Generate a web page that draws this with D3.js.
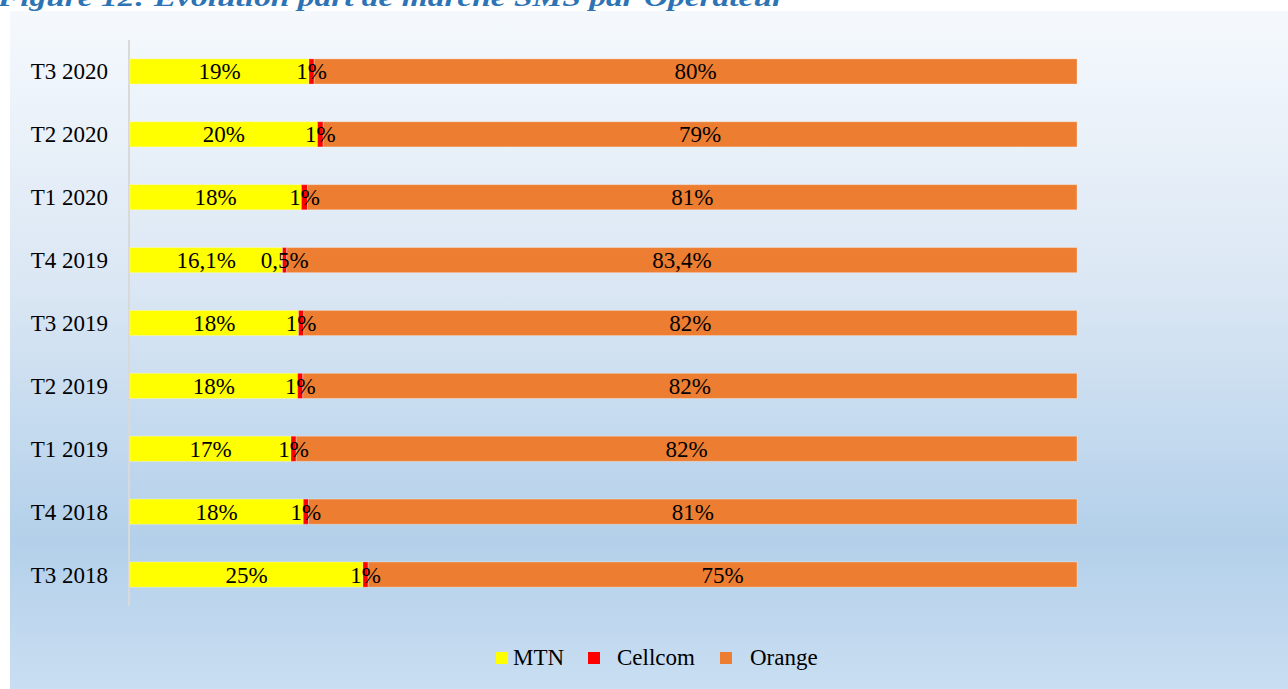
<!DOCTYPE html>
<html>
<head>
<meta charset="utf-8">
<script src="https://cdn.jsdelivr.net/npm/d3@7"></script>
<style>
  body { margin: 0; background: #ffffff; }
  svg { display: block; }
  text { font-family: "Liberation Serif", "Times New Roman", serif; fill: #000; }
</style>
</head>
<body>
<svg id="chart" width="1288" height="689"></svg>
<script>
// periods, top to bottom
var periods = ["T3 2020", "T2 2020", "T1 2020", "T4 2019", "T3 2019", "T2 2019", "T1 2019", "T4 2018", "T3 2018"];
var operators = ["MTN", "Cellcom", "Orange"];
// shares (%)
var mtn     = [18.9, 19.8, 18.1, 16.1, 17.8, 17.7, 17.0, 18.3, 24.6];
var cellcom = [0.55, 0.6, 0.65, 0.45, 0.55, 0.55, 0.55, 0.55, 0.55];
var orange  = [80.55, 79.6, 81.25, 83.45, 81.65, 81.75, 82.45, 81.15, 74.85];
// labels as printed on the chart
var mtnLabels     = ["19%", "20%", "18%", "16,1%", "18%", "18%", "17%", "18%", "25%"];
var cellcomLabels = ["1%", "1%", "1%", "0,5%", "1%", "1%", "1%", "1%", "1%"];
var orangeLabels  = ["80%", "79%", "81%", "83,4%", "82%", "82%", "82%", "81%", "75%"];

var colors = { "MTN": "#ffff00", "Cellcom": "#ff0000", "Orange": "#ed7d31" };

var rows = periods.map(function(p, i) {
    return { period: p, MTN: mtn[i], Cellcom: cellcom[i], Orange: orange[i],
             labels: { MTN: mtnLabels[i], Cellcom: cellcomLabels[i], Orange: orangeLabels[i] } };
});

var svg = d3.select("#chart");

// background panel with gradient
var grad = svg.append("defs").append("linearGradient")
    .attr("id", "bg").attr("x1", 0).attr("y1", 0).attr("x2", 0).attr("y2", 1);
grad.append("stop").attr("offset", "0%").attr("stop-color", "#f5f9fd");
grad.append("stop").attr("offset", "40%").attr("stop-color", "#dbe7f4");
grad.append("stop").attr("offset", "78%").attr("stop-color", "#b3d0ea");
grad.append("stop").attr("offset", "100%").attr("stop-color", "#c9def2");

svg.append("rect")
    .attr("x", 10).attr("y", 11)
    .attr("width", 1278).attr("height", 678)
    .attr("fill", "url(#bg)");

// title (cut at top of page, as in the source)
svg.append("text")
    .attr("x", -2).attr("y", 6)
    .attr("textLength", 787).attr("lengthAdjust", "spacingAndGlyphs")
    .style("font-size", "25px").style("font-weight", "bold").style("font-style", "italic")
    .style("fill", "#2e74b5")
    .text("Figure 12: Evolution part de marché SMS par Opérateur");

var x = d3.scaleLinear().domain([0, 1]).range([130, 1077]);
var y = d3.scaleBand().domain(periods).range([40, 606]).paddingInner(0.6).paddingOuter(0.3);

var series = d3.stack().keys(operators).offset(d3.stackOffsetExpand)(rows);

// vertical axis line
svg.append("line")
    .attr("x1", 129).attr("x2", 129).attr("y1", 40).attr("y2", 606)
    .attr("stroke", "#d9d9d9").attr("stroke-width", 2);

// category labels
svg.selectAll(".cat")
    .data(periods).enter().append("text")
    .attr("class", "cat")
    .attr("x", 108)
    .attr("y", function(d) { return y(d) + y.bandwidth() / 2; })
    .attr("dy", "0.35em")
    .style("text-anchor", "end")
    .style("font-size", "23px")
    .text(function(d) { return d; });

var groups = svg.selectAll(".serie")
    .data(series).enter().append("g")
    .attr("class", "serie")
    .attr("fill", function(d) { return colors[d.key]; });

groups.selectAll("rect")
    .data(function(d) { return d; }).enter().append("rect")
    .attr("x", function(d) { return x(d[0]); })
    .attr("y", function(d) { return y(d.data.period); })
    .attr("width", function(d) { return x(d[1]) - x(d[0]); })
    .attr("height", y.bandwidth())
    .attr("stroke", "rgba(255,255,255,0.3)")
    .attr("stroke-width", 1);

// data labels, centred on their segment
series.forEach(function(s) {
    svg.selectAll(".lab_" + s.key)
        .data(s).enter().append("text")
        .attr("class", "lab_" + s.key)
        .attr("x", function(d) { return (x(d[0]) + x(d[1])) / 2; })
        .attr("y", function(d) { return y(d.data.period) + y.bandwidth() / 2; })
        .attr("dy", "0.35em")
        .style("text-anchor", "middle")
        .style("font-size", "23px")
        .text(function(d) { return d.data.labels[s.key]; });
});

// legend
var legx = [496, 588, 720];
var legtx = [513, 617, 750];
operators.forEach(function(k, i) {
    svg.append("rect")
        .attr("x", legx[i]).attr("y", 652)
        .attr("width", 12).attr("height", 12)
        .attr("fill", colors[k]);
    svg.append("text")
        .attr("x", legtx[i]).attr("y", 665)
        .style("font-size", "23px")
        .text(k);
});
</script>
</body>
</html>
